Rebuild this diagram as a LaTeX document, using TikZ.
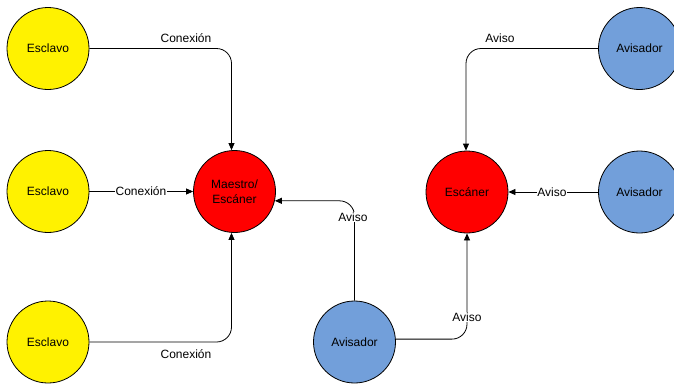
\documentclass[tikz,border=0pt]{standalone}
\usepackage{fontspec}
\setmainfont{Liberation Sans}
\usetikzlibrary{arrows.meta}
\definecolor{avblue}{RGB}{114,159,218}
\begin{document}
\begin{tikzpicture}[x=1pt,y=-1pt,
  circ/.style={circle,draw=black,line width=0.8pt,minimum size=82pt,inner sep=0pt,font=\fontsize{12}{15.5}\selectfont,align=center},
  slave/.style={circ,fill=yellow},
  master/.style={circ,fill=red},
  adv/.style={circ,fill=avblue},
  conn/.style={draw=black,line width=0.8pt,-{Triangle[length=7pt,width=6pt]},rounded corners=15pt},
  lbl/.style={font=\fontsize{12}{14}\selectfont,inner sep=1pt},
  lblw/.style={lbl,fill=white,inner xsep=0.2pt,inner ysep=1pt}]
\useasboundingbox (0,0) rectangle (674,383);
\clip (0,0) rectangle (674,383);
% nodes
\node[slave] (s1) at (48,48.5) {Esclavo};
\node[slave] (s2) at (48,191.5) {Esclavo};
\node[slave] (s3) at (48,342) {Esclavo};
\node[master] (m) at (234.5,191.5) {Maestro/\\Escáner};
\node[master] (e) at (467,192) {Escáner};
\node[adv] (a1) at (639.5,48.5) {Avisador};
\node[adv] (a2) at (639.5,192) {Avisador};
\node[adv] (a3) at (354.5,342) {Avisador};
% connectors
\draw[conn] (s1.east) -| ([xshift=-3pt]m.north);
\draw[conn] (s2) -- (m);
\draw[conn] (s3.east) -| ([xshift=-3pt]m.south);
\draw[conn] (a3.north) |- (m.-13);
\draw[conn] (a3.4) -| (e.south);
\draw[conn] (a1.west) -| ([xshift=-1pt]e.north);
\draw[conn] (a2) -- (e);
% labels
\node[lbl] (c1) at (186,38) {Conexión};
\node[lblw] (c2) at (141,191.5) {Conexión};
\node[lbl] (c3) at (186,354) {Conexión};
\node[lblw] (v1) at (353,217) {Aviso};
\node[lblw] (v2) at (467,317) {Aviso};
\node[lbl] (v3) at (500,38) {Aviso};
\node[lblw] (v4) at (552,192) {Aviso};
\end{tikzpicture}
\end{document}
